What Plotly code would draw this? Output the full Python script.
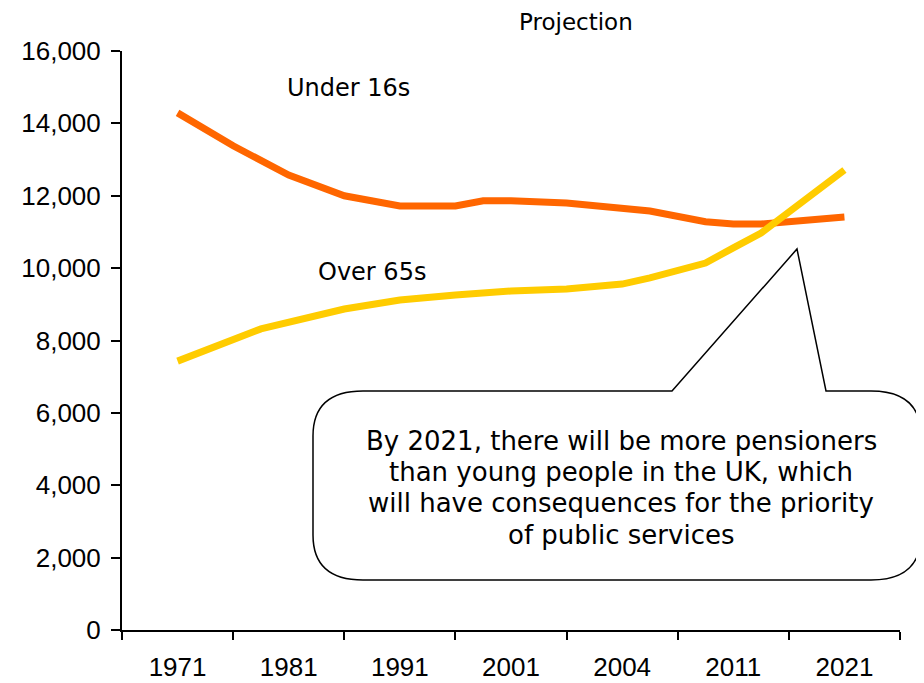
import plotly.graph_objects as go

# category labels on the x axis (one per category slot)
categories = ["1971", "1981", "1991", "2001", "2004", "2011", "2021"]

# series sampled along the category axis (0 = left edge, 7 = right edge)
under16_x = [0.5, 1.0, 1.5, 2.0, 2.5, 3.0, 3.25, 3.5, 4.0, 4.75, 5.25, 5.5, 5.75, 6.5]
under16_y = [14290, 13380, 12570, 12000, 11720, 11720, 11860, 11860, 11800, 11580,
             11280, 11220, 11220, 11410]

over65_x = [0.5, 1.25, 2.0, 2.5, 3.0, 3.5, 4.0, 4.5, 4.75, 5.25, 5.5, 5.75, 6.5]
over65_y = [7430, 8320, 8870, 9120, 9260, 9370, 9420, 9560, 9730, 10140, 10560,
            10970, 12710]

y_ticks = [0, 2000, 4000, 6000, 8000, 10000, 12000, 14000, 16000]

W, H = 924, 683
OFF = 8  # page body margin of the html output
# plot area on screen: x 122..900, y 51..630
SX0, SX1, SY0, SY1 = 122, 900, 51, 630


def px(x):
    return (x - SX0) / (SX1 - SX0)


def py(y):
    return (SY1 - y) / (SY1 - SY0)


fig = go.Figure()

fig.add_trace(go.Scatter(
    x=under16_x, y=under16_y, mode="lines",
    line=dict(color="#FF6600", width=7),
    hoverinfo="none", showlegend=False
))
fig.add_trace(go.Scatter(
    x=over65_x, y=over65_y, mode="lines",
    line=dict(color="#FFCC00", width=7),
    hoverinfo="none", showlegend=False
))

# callout bubble with pointer
x0, x1, y0, y1 = 313, 921, 391, 580
rx, ry = 50, 45
pts = [
    ("M", x0 + rx, y0), ("L", 672, y0), ("L", 797, 249), ("L", 826, y0),
    ("L", x1 - rx, y0), ("Q", x1, y0, x1, y0 + ry), ("L", x1, y1 - ry),
    ("Q", x1, y1, x1 - rx, y1), ("L", x0 + rx, y1), ("Q", x0, y1, x0, y1 - ry),
    ("L", x0, y0 + ry), ("Q", x0, y0, x0 + rx, y0),
]
path = ""
for p in pts:
    cmd, coords = p[0], p[1:]
    parts = []
    for i in range(0, len(coords), 2):
        parts.append(f"{px(coords[i]):.5f},{py(coords[i + 1]):.5f}")
    path += cmd + " " + " ".join(parts) + " "
path += "Z"

fig.add_shape(type="path", path=path, xref="paper", yref="paper",
              fillcolor="white", line=dict(color="black", width=1.5), layer="above")


def label(text, x, y, size, yanchor="middle"):
    fig.add_annotation(text=text, x=px(x), y=py(y), xref="paper", yref="paper",
                       xanchor="center", yanchor=yanchor, showarrow=False,
                       borderpad=0,
                       font=dict(family="DejaVu Sans", size=size, color="black"))


label("Projection", 576, OFF, 23, yanchor="top")
label("Under 16s", 348, 88, 24)
label("Over 65s", 372, 272, 24)

callout_lines = [
    "By 2021, there will be more pensioners",
    "than young people in the UK, which",
    "will have consequences for the priority",
    "of public services",
]
for line, yy in zip(callout_lines, [441, 472, 503, 535]):
    label(line, 621, yy, 26)

tick_font = dict(family="Liberation Sans, Arial", size=26, color="black")

fig.update_xaxes(
    range=[0, 7],
    automargin=False,
    tickmode="array",
    tickvals=[i + 0.5 for i in range(len(categories))],
    ticktext=categories,
    ticks="",
    ticklabelstandoff=13,
    tickfont=tick_font,
    showgrid=False, zeroline=False,
    showline=True, linecolor="black", linewidth=2,
    minor=dict(tickmode="linear", tick0=0, dtick=1, ticks="outside",
               ticklen=8, tickwidth=2, tickcolor="black", showgrid=False),
)
fig.update_yaxes(
    range=[0, 16000],
    automargin=False,
    tickmode="array",
    tickvals=y_ticks,
    tickformat=",",
    ticks="outside", ticklen=9, tickwidth=2, tickcolor="black",
    ticklabelstandoff=5,
    tickfont=tick_font,
    showgrid=False, zeroline=False,
    showline=True, linecolor="black", linewidth=2,
)

fig.update_layout(
    width=W, height=H,
    margin=dict(l=SX0 - OFF, r=W - SX1 + OFF, t=SY0 - OFF, b=H - SY1 + OFF),
    plot_bgcolor="white", paper_bgcolor="white",
    showlegend=False,
)

fig.write_html("out.html")
